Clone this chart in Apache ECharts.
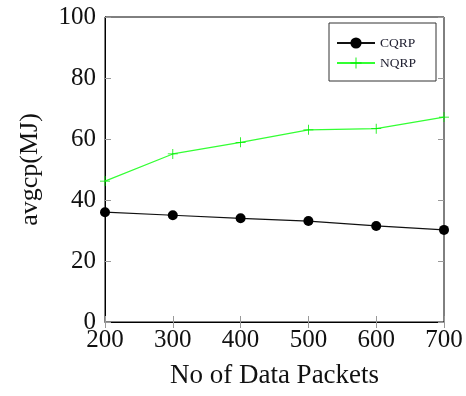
<!DOCTYPE html>
<html>
<head>
<meta charset="utf-8">
<script src="https://cdn.jsdelivr.net/npm/echarts@6/dist/echarts.min.js"></script>
<style>
  html, body { margin: 0; padding: 0; background: #fff; }
  #chart { width: 466px; height: 396px; }
</style>
</head>
<body>
<div id="chart"></div>
<script>
// data
const packets = [200, 300, 400, 500, 600, 700];
const cqrp = [36.0, 35.0, 34.0, 33.1, 31.5, 30.2];
const nqrp = [46.2, 55.1, 58.9, 63.0, 63.4, 67.2];
const yTicks = [0, 20, 40, 60, 80, 100];

const font = 'Liberation Serif';
const plusIcon = 'path://M0,4.6H10V5.4H0Z M4.6,0H5.4V10H4.6Z';

const pairs = (xs, ys) => xs.map((x, i) => [x, ys[i]]);

const tickStyle = { show: true, inside: true, length: 6, lineStyle: { color: '#999', width: 1 } };

const chart = echarts.init(document.getElementById('chart'));
chart.setOption({
    animation: false,
    backgroundColor: '#fff',
    grid: { left: 105, right: 22, top: 17, bottom: 74, show: true, borderColor: '#000', borderWidth: 1 },
    legend: {
        orient: 'vertical',
        left: 329, top: 23,
        padding: [13, 20, 11, 7],
        itemGap: 6,
        itemWidth: 38, itemHeight: 14,
        borderColor: '#333', borderWidth: 1,
        backgroundColor: '#fff',
        textStyle: { fontFamily: font, fontSize: 13.5, color: '#223' },
        data: ['CQRP', 'NQRP']
    },
    xAxis: [
        {
            type: 'value', min: 200, max: 700, interval: 100,
            name: 'No of Data Packets', nameLocation: 'middle', nameGap: 40,
            nameTextStyle: { fontFamily: font, fontSize: 27, color: '#111' },
            axisLine: { lineStyle: { color: '#000' } },
            axisTick: tickStyle,
            splitLine: { show: false },
            axisLabel: { fontFamily: font, fontSize: 25, color: '#111', margin: 6 }
        },
        {
            type: 'value', min: 200, max: 700, interval: 100, position: 'top',
            axisLine: { show: false }, axisTick: tickStyle,
            axisLabel: { show: false }, splitLine: { show: false }
        }
    ],
    yAxis: [
        {
            type: 'value', min: yTicks[0], max: yTicks[yTicks.length - 1], interval: 20,
            name: 'avgcp(MJ)', nameLocation: 'middle', nameGap: 62, nameRotate: 90,
            nameTextStyle: { fontFamily: font, fontSize: 26, color: '#111' },
            axisLine: { show: true, lineStyle: { color: '#000' } },
            axisTick: tickStyle,
            splitLine: { show: false },
            axisLabel: { fontFamily: font, fontSize: 25, color: '#111', margin: 9 }
        },
        {
            type: 'value', min: 0, max: 100, interval: 20, position: 'right',
            axisLine: { show: false }, axisTick: tickStyle,
            axisLabel: { show: false }, splitLine: { show: false }
        }
    ],
    series: [
        {
            name: 'CQRP', type: 'line', data: pairs(packets, cqrp),
            symbol: 'circle', symbolSize: 10,
            lineStyle: { color: '#111', width: 1.2 },
            itemStyle: { color: '#000' }
        },
        {
            name: 'NQRP', type: 'line', data: pairs(packets, nqrp),
            symbol: plusIcon, symbolSize: 10,
            lineStyle: { color: '#33ff33', width: 1.2 },
            itemStyle: { color: '#00ee00' }
        }
    ]
});
</script>
</body>
</html>
